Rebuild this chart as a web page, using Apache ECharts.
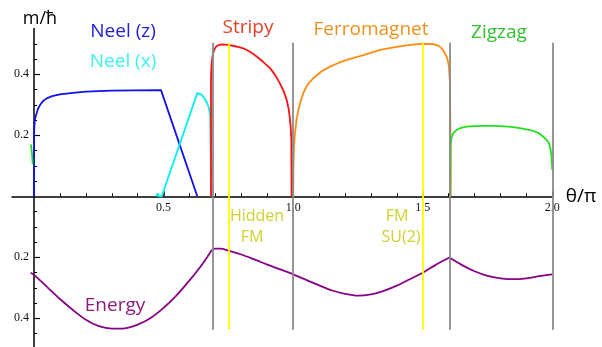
<!DOCTYPE html>
<html><head><meta charset="utf-8">
<script src="https://cdn.jsdelivr.net/npm/echarts@6/dist/echarts.min.js"></script>
<style>html,body{margin:0;padding:0;background:#fff}#c{width:602px;height:347px}</style>
</head><body><div id="c"></div>
<script>
// ---- data (theta/pi, m/hbar) ----
const neelZX = [0, 0, 0.001, 0.003, 0.006, 0.01, 0.015, 0.023, 0.035, 0.049, 0.07, 0.1, 0.15, 0.2, 0.3, 0.383, 0.49, 0.63];
const neelZY = [0, 0.2, 0.225, 0.248, 0.262, 0.272, 0.286, 0.299, 0.312, 0.321, 0.328, 0.334, 0.339, 0.343, 0.346, 0.347, 0.348, 0];

const neelXX = [0.472, 0.477, 0.482, 0.493, 0.497, 0.63, 0.645, 0.658, 0.668, 0.675, 0.68, 0.683];
const neelXY = [0, 0.009, 0, 0, 0, 0.338, 0.334, 0.322, 0.305, 0.29, 0.26, 0];

const stripyX = [0.683, 0.683, 0.684, 0.686, 0.69, 0.695, 0.702, 0.71, 0.724, 0.75, 0.78, 0.808, 0.835, 0.859, 0.885, 0.911, 0.93, 0.949, 0.963, 0.975, 0.983, 0.988, 0.991, 0.993, 0.994];
const stripyY = [0, 0.38, 0.415, 0.44, 0.465, 0.48, 0.49, 0.495, 0.498, 0.496, 0.491, 0.485, 0.473, 0.458, 0.44, 0.42, 0.398, 0.37, 0.345, 0.316, 0.285, 0.25, 0.22, 0.185, 0];

const ferroX = [1.0, 1.001, 1.003, 1.007, 1.013, 1.02, 1.03, 1.039, 1.055, 1.078, 1.11, 1.142, 1.175, 1.207, 1.271, 1.335, 1.4, 1.45, 1.5, 1.541, 1.56, 1.573, 1.585, 1.592, 1.598, 1.601, 1.605, 1.607, 1.608];
const ferroY = [0, 0.1, 0.16, 0.207, 0.25, 0.283, 0.315, 0.338, 0.365, 0.387, 0.41, 0.425, 0.437, 0.447, 0.463, 0.48, 0.49, 0.496, 0.5, 0.499, 0.494, 0.485, 0.47, 0.458, 0.44, 0.425, 0.37, 0.2, 0];

const zigzagX = [1.606, 1.607, 1.608, 1.612, 1.618, 1.63, 1.644, 1.67, 1.7, 1.734, 1.766, 1.798, 1.83, 1.863, 1.895, 1.927, 1.95, 1.965, 1.978, 1.987, 1.993, 1.997, 2.0];
const zigzagY = [0, 0.08, 0.174, 0.195, 0.207, 0.217, 0.223, 0.228, 0.23, 0.231, 0.231, 0.23, 0.228, 0.225, 0.22, 0.214, 0.206, 0.195, 0.185, 0.174, 0.155, 0.13, 0.086];

const zigzagWrapX = [-0.012, -0.008, -0.005];
const zigzagWrapY = [0.17, 0.14, 0.105];

// energy plotted downward (negative), labelled by magnitude; one array per phase region
const energyAX = [-0.013, 0, 0.05, 0.1, 0.15, 0.2, 0.25, 0.3, 0.35, 0.4, 0.45, 0.5, 0.55, 0.6, 0.65, 0.686];
const energyAY = [-0.251, -0.258, -0.297, -0.337, -0.373, -0.405, -0.426, -0.434, -0.433, -0.421, -0.399, -0.366, -0.325, -0.276, -0.222, -0.176];
const energyBX = [0.686, 0.7, 0.72, 0.75, 0.8, 0.85, 0.9, 0.95, 1.0, 1.05, 1.1, 1.15, 1.2, 1.25, 1.3, 1.35, 1.4, 1.45, 1.5, 1.55, 1.603];
const energyBY = [-0.176, -0.172, -0.172, -0.178, -0.191, -0.207, -0.224, -0.24, -0.256, -0.274, -0.292, -0.309, -0.32, -0.326, -0.322, -0.31, -0.293, -0.272, -0.251, -0.225, -0.201];
const energyCX = [1.603, 1.65, 1.7, 1.75, 1.8, 1.85, 1.9, 1.95, 2.0];
const energyCY = [-0.201, -0.225, -0.246, -0.261, -0.269, -0.272, -0.269, -0.262, -0.256];

const phaseBoundaries = [0.688, 1.0, 1.603, 2.0];
const specialPoints = [0.751, 1.5];
const lineTop = 0.503, lineBottom = -0.438;

const xMinorTicks = [0.1,0.2,0.3,0.4,0.6,0.7,0.8,0.9,1.1,1.2,1.3,1.4,1.6,1.7,1.8,1.9];
const xMajorTicks = [0.5, 1.0, 1.5, 2.0];
const xTickLabels = [0.5, 1.0, 1.5, 2.0];
const yMinorTicks = [-0.5,-0.45,-0.4,-0.35,-0.3,-0.25,-0.2,-0.15,-0.1,-0.05,0.05,0.1,0.15,0.2,0.25,0.3,0.35,0.4,0.45,0.5];
const yMajorTicks = [-0.4, -0.2, 0.2, 0.4];
const yTickLabels = [-0.4, -0.2, 0.2, 0.4];

// ---- layout ----
const X_MIN = -0.085, X_MAX = 2.0, Y_MIN = -0.5, Y_MAX = 0.55;
const G_LEFT = 12, G_TOP = 28.5, G_W = 540.3, G_H = 320.25;
// shift axes inward so they sit at the zero of the other axis
const yAxisOffset = -G_W * (0 - X_MIN) / (X_MAX - X_MIN);
const xAxisOffset = -G_H * (0 - Y_MIN) / (Y_MAX - Y_MIN);

const zip = (xs, ys) => xs.map((x, i) => [x, ys[i]]);
const vline = (x) => [{coord: [x, lineTop]}, {coord: [x, lineBottom]}];

const chart = echarts.init(document.getElementById('c'), null, {renderer: 'canvas'});
const axisLineStyle = {color: '#000', width: 1.5};
function curve(name, xs, ys, color, smooth) {
  return {
    name, type: 'line', data: zip(xs, ys), showSymbol: false, symbol: 'none',
    smooth: smooth || false,
    lineStyle: {color, width: 1.8}, itemStyle: {color}, xAxisIndex: 0, yAxisIndex: 0,
    animation: false, z: 3
  };
}
const labelFont = {fontFamily: 'Liberation Serif', fontSize: 12, color: '#111'};
const ENERGY = '#880088';
chart.setOption({
  animation: false,
  grid: {left: G_LEFT, top: G_TOP, width: G_W, height: G_H, containLabel: false, outerBoundsMode: 'none'},
  xAxis: [{
    type: 'value', min: X_MIN, max: X_MAX, position: 'bottom', offset: xAxisOffset,
    axisLine: {onZero: false, lineStyle: axisLineStyle},
    axisTick: {inside: true, length: 3, customValues: xMinorTicks, lineStyle: {color: '#000', width: 1}},
    axisLabel: Object.assign({customValues: xTickLabels, formatter: v => Number(v).toFixed(1), margin: 6}, labelFont),
    splitLine: {show: false},
    name: 'θ/π', nameLocation: 'end', nameGap: 8,
    nameTextStyle: {fontFamily: 'Open Sans', fontSize: 19, color: '#000', verticalAlign: 'middle'}
  }, {
    type: 'value', min: X_MIN, max: X_MAX, position: 'bottom', offset: xAxisOffset,
    axisLine: {show: false, onZero: false},
    axisTick: {inside: true, length: 5, customValues: xMajorTicks, lineStyle: {color: '#000', width: 1.5}},
    axisLabel: {show: false}, splitLine: {show: false}
  }],
  yAxis: [{
    type: 'value', min: Y_MIN, max: Y_MAX, position: 'left', offset: yAxisOffset,
    axisLine: {onZero: false, lineStyle: axisLineStyle},
    axisTick: {inside: true, length: 3, customValues: yMinorTicks, lineStyle: {color: '#000', width: 1}},
    axisLabel: Object.assign({customValues: yTickLabels, formatter: v => Math.abs(v).toFixed(1), margin: 5}, labelFont),
    splitLine: {show: false}
  }, {
    type: 'value', min: Y_MIN, max: Y_MAX, position: 'left', offset: yAxisOffset,
    axisLine: {show: false, onZero: false},
    axisTick: {inside: true, length: 6, customValues: yMajorTicks, lineStyle: {color: '#000', width: 1.2}},
    axisLabel: {show: false}, splitLine: {show: false}
  }],
  series: [
    {
      name: 'boundaries', type: 'line', data: [], xAxisIndex: 0, yAxisIndex: 0, z: 2,
      markLine: {silent: true, symbol: 'none', animation: false, label: {show: false},
        lineStyle: {type: 'solid', color: '#8a8a8a', width: 1.8},
        data: phaseBoundaries.map(vline)}
    },
    {
      name: 'special', type: 'line', data: [], xAxisIndex: 0, yAxisIndex: 0, z: 2,
      markLine: {silent: true, symbol: 'none', animation: false, label: {show: false},
        lineStyle: {type: 'solid', color: '#ffff00', width: 1.8},
        data: specialPoints.map(vline)}
    },
    curve('Neel (z)', neelZX, neelZY, '#1010e8'),
    curve('Neel (x)', neelXX, neelXY, '#00f0f0'),
    curve('Stripy', stripyX, stripyY, '#ff1010'),
    curve('Ferromagnet', ferroX, ferroY, '#ff8c10'),
    curve('Zigzag', zigzagX, zigzagY, '#20e020'),
    curve('Zigzag wrap', zigzagWrapX, zigzagWrapY, '#20e020'),
    curve('Energy', energyAX, energyAY, ENERGY, 0.3),
    curve('Energy B', energyBX, energyBY, ENERGY, 0.3),
    curve('Energy C', energyCX, energyCY, ENERGY, 0.3)
  ],
  graphic: [
    {type: 'text', x: 40, y: 19, style: {text: 'm/ħ', font: '18px "Open Sans"', fill: '#000', align: 'center', verticalAlign: 'middle'}},
    {type: 'text', x: 123, y: 32, style: {text: 'Neel (z)', font: '19px "Open Sans"', fill: '#2020d8', align: 'center', verticalAlign: 'middle'}},
    {type: 'text', x: 123, y: 62, style: {text: 'Neel (x)', font: '19px "Open Sans"', fill: '#40f0f0', align: 'center', verticalAlign: 'middle'}},
    {type: 'text', x: 248, y: 28, style: {text: 'Stripy', font: '19px "Open Sans"', fill: '#e0402a', align: 'center', verticalAlign: 'middle'}},
    {type: 'text', x: 371, y: 30, style: {text: 'Ferromagnet', font: '19px "Open Sans"', fill: '#f0901e', align: 'center', verticalAlign: 'middle'}},
    {type: 'text', x: 499, y: 33, style: {text: 'Zigzag', font: '19px "Open Sans"', fill: '#30c030', align: 'center', verticalAlign: 'middle'}},
    {type: 'text', x: 115, y: 306, style: {text: 'Energy', font: '19px "Open Sans"', fill: '#8c1a7c', align: 'center', verticalAlign: 'middle'}},
    {type: 'text', x: 257, y: 216, style: {text: 'Hidden', font: '16px "Open Sans"', fill: '#d0d030', align: 'center', verticalAlign: 'middle'}},
    {type: 'text', x: 252, y: 237, style: {text: 'FM', font: '16px "Open Sans"', fill: '#d0d030', align: 'center', verticalAlign: 'middle'}},
    {type: 'text', x: 397, y: 216, style: {text: 'FM', font: '16px "Open Sans"', fill: '#d0d030', align: 'center', verticalAlign: 'middle'}},
    {type: 'text', x: 401, y: 237, style: {text: 'SU(2)', font: '16px "Open Sans"', fill: '#d0d030', align: 'center', verticalAlign: 'middle'}}
  ]
});
</script>
</body></html>
